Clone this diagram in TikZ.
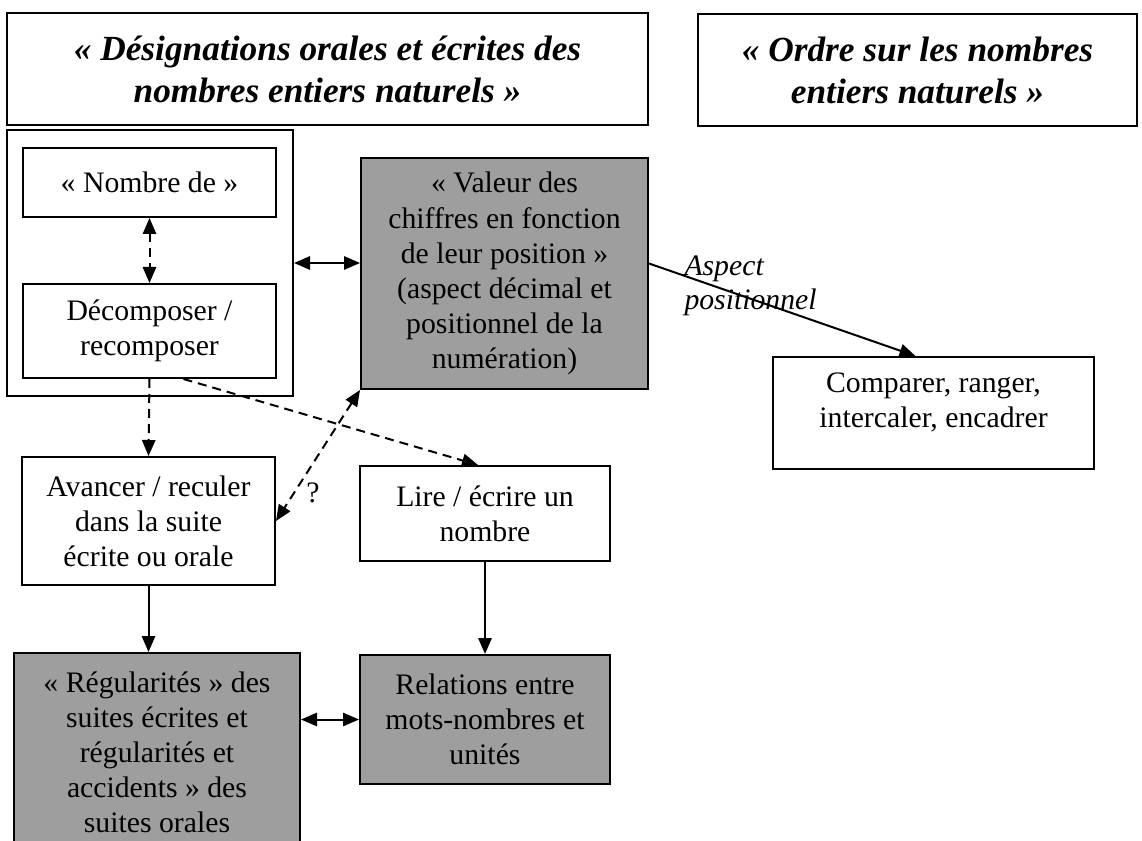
\documentclass[tikz,border=0pt]{standalone}
\usepackage{fontspec}
\setmainfont{Liberation Serif}
\usetikzlibrary{arrows.meta,calc}

\definecolor{shade}{RGB}{158,158,158}
\tikzset{every picture/.style={line width=0.75pt}}

\begin{document}
\begin{tikzpicture}[x=0.75pt,y=0.75pt,yscale=-1,xscale=1,
  box/.style={draw, line width=1.5pt, inner sep=0.75pt, align=center, font=\fontsize{22.3}{26.3}\selectfont},
  greybox/.style={box, fill=shade},
  titlebox/.style={box, font=\fontsize{26.5}{31.5}\selectfont\bfseries\itshape},
  plain/.style={inner sep=0.75pt, font=\fontsize{22.3}{26.3}\selectfont},
  link/.style={line width=1.5pt, -{Triangle[length=12pt,width=10pt]}},
  twoway/.style={line width=1.5pt, {Triangle[length=12pt,width=10pt]}-{Triangle[length=12pt,width=10pt]}},
  dashed link/.style={link, dash pattern={on 6.75pt off 4.5pt}},
  dashed twoway/.style={twoway, dash pattern={on 6.75pt off 4.5pt}}]
%set diagram left start at 0, and has height of 841
\useasboundingbox (0,0) rectangle (1142,841);
\clip (0,0) rectangle (1142,841);

% Titles
\node (designations) [titlebox, minimum width=480.75pt, minimum height=84pt] at (327.5,69) {« Désignations orales et écrites des\\nombres entiers naturels »};
\node (ordre) [titlebox, minimum width=329.25pt, minimum height=84pt] at (917.5,70) {« Ordre sur les nombres\\entiers naturels »};

%Shape: Rectangle (outer frame)
\node (cadre) [box, minimum width=214.5pt, minimum height=199.5pt] at (150,263) {};
% Text Nodes
\node (nombrede) [box, minimum width=189.75pt, minimum height=51.75pt] at (149.5,182.5) {« Nombre de »};
\node (decomp) [box, minimum width=189.75pt, minimum height=70.5pt] at (149.5,331) {Décomposer /\\recomposer};
\node (valeur) [greybox, minimum width=215.25pt, minimum height=173.25pt] at (504.5,273.5) {« Valeur des\\chiffres en fonction\\de leur position »\\(aspect décimal et\\positionnel de la\\numération)};
\node (comparer) [box, minimum width=240.75pt, minimum height=84pt] at (933.5,413) {};
\node (comparertxt) [plain, align=center] at (933.5,402) {Comparer, ranger,\\intercaler, encadrer};
\node (avancer) [box, minimum width=189.75pt, minimum height=96pt] at (148.5,521) {Avancer / reculer\\dans la suite\\écrite ou orale};
\node (lire) [box, minimum width=187.5pt, minimum height=71.25pt] at (485,513.5) {Lire / écrire un\\nombre};
\node (regul) [greybox, minimum width=214.5pt, minimum height=148.5pt] at (157,752) {« Régularités » des\\suites écrites et\\régularités et\\accidents » des\\suites orales};
\node (relations) [greybox, minimum width=187.5pt, minimum height=96.75pt] at (485,719.5) {Relations entre\\mots-nombres et\\unités};

% Labels
\node (aspect) [plain, anchor=north west, align=left, font=\fontsize{22.3}{25.5}\selectfont\itshape] at (683,254) {Aspect\\positionnel};
\node (question) [plain] at (313,493) {?};

%Straight Lines
\draw [dashed twoway] (nombrede) -- (decomp);
\draw [twoway] (cadre.east) -- (cadre.east -| valeur.west);
\draw [link] ($(valeur.east)+(0,-10)$) -- ($(comparer.north)+(-18,0)$);
\draw [dashed link] (decomp.south) -- (avancer.north);
\draw [dashed link] ($(decomp.south)+(34,0)$) -- ($(lire.north)+(-7,0)$);
\draw [dashed twoway] (valeur.south west) -- (avancer.east);
\draw [link] (avancer.south) -- (avancer.south |- regul.north);
\draw [link] (lire) -- (relations);
\draw [twoway] (relations.west -| regul.east) -- (relations.west);

\end{tikzpicture}
\end{document}
